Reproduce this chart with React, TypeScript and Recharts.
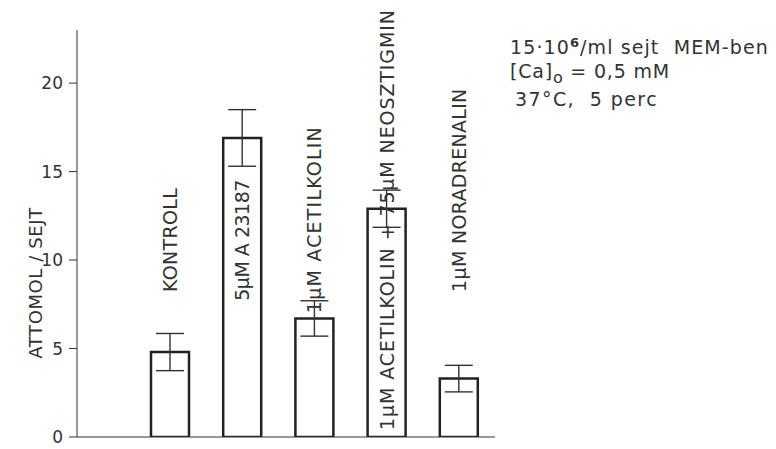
import { Bar, BarChart, ErrorBar, LabelList, XAxis, YAxis } from 'recharts'

const categories = [
  'KONTROLL',
  '5μM A 23187',
  '1μM ACETILKOLIN',
  '1μM ACETILKOLIN + 75μM NEOSZTIGMIN',
  '1μM NORADRENALIN',
]
const means = [4.8, 16.9, 6.7, 12.9, 3.3]
const errors = [1.05, 1.6, 1.0, 1.05, 0.75]
const yTicks = [0, 5, 10, 15, 20]

// where each rotated label starts, in y units
const labelStart = [8.2, 7.7, 7.0, 0.4, 8.2]
const labelSpacing = [0.3, -0.5, 1.2, 0.9, 0.3]

const ink = '#333'
const font = '"DejaVu Sans", sans-serif'

const data = categories.map((name, i) => ({ name, mean: means[i], err: errors[i] }))

const BarLabel = (props: any) => {
  const { x, y, width, height, value } = props
  const i = categories.indexOf(value)
  const bottom = y + height
  const pxPerUnit = height / means[i]
  const y0 = bottom - labelStart[i] * pxPerUnit
  const cx = x + width / 2
  return (
    <text
      x={0}
      y={0}
      transform={`translate(${cx}, ${y0}) rotate(-90)`}
      textAnchor="start"
      dominantBaseline="central"
      fontSize={19}
      fontFamily={font}
      letterSpacing={labelSpacing[i]}
      fill={ink}
    >
      {value}
    </text>
  )
}

const YLabel = () => (
  <text
    x={0}
    y={0}
    transform="translate(35, 283) rotate(-90)"
    textAnchor="middle"
    dominantBaseline="central"
    fontSize={18}
    fontFamily={font}
    letterSpacing={0.6}
    fill={ink}
  >
    ATTOMOL / SEJT
  </text>
)

const noteStyle: React.CSSProperties = {
  position: 'absolute',
  left: 510,
  fontFamily: font,
  fontSize: 19,
  color: ink,
  whiteSpace: 'pre',
  lineHeight: '22px',
}

export default function App() {
  return (
    <div style={{ position: 'absolute', left: 0, top: 0, width: 776, height: 449, background: '#fff' }}>
      <BarChart
        width={776}
        height={449}
        data={data}
        margin={{ top: 30, right: 281, bottom: 0, left: 0 }}
      >
        <XAxis
          dataKey="name"
          tick={false}
          tickLine={false}
          height={12}
          padding={{ left: 57, right: 0 }}
          stroke={ink}
        />
        <YAxis
          width={77}
          domain={[0, 23]}
          ticks={yTicks}
          allowDataOverflow
          tickSize={8}
          tickMargin={6}
          stroke={ink}
          tick={{ fontSize: 17, fontFamily: font, fill: ink }}
          label={<YLabel />}
        />
        <Bar
          dataKey="mean"
          barSize={38}
          fill="#fff"
          stroke="#222"
          strokeWidth={2.5}
          isAnimationActive={false}
        >
          <ErrorBar dataKey="err" width={14} stroke={ink} strokeWidth={1.4} direction="y" />
          <LabelList dataKey="name" content={<BarLabel />} />
        </Bar>
      </BarChart>
      <div style={{ ...noteStyle, top: 32, letterSpacing: 1.1 }}>
        15·10<sup style={{ fontSize: 13, fontWeight: 'bold' }}>6</sup>/ml sejt  MEM-ben
      </div>
      <div style={{ ...noteStyle, top: 60, letterSpacing: 0.8 }}>
        [Ca]<sub style={{ fontSize: 16 }}>o</sub> = 0,5 mM
      </div>
      <div style={{ ...noteStyle, top: 88, left: 515, letterSpacing: 1.4 }}>37°C,  5 perc</div>
    </div>
  )
}
